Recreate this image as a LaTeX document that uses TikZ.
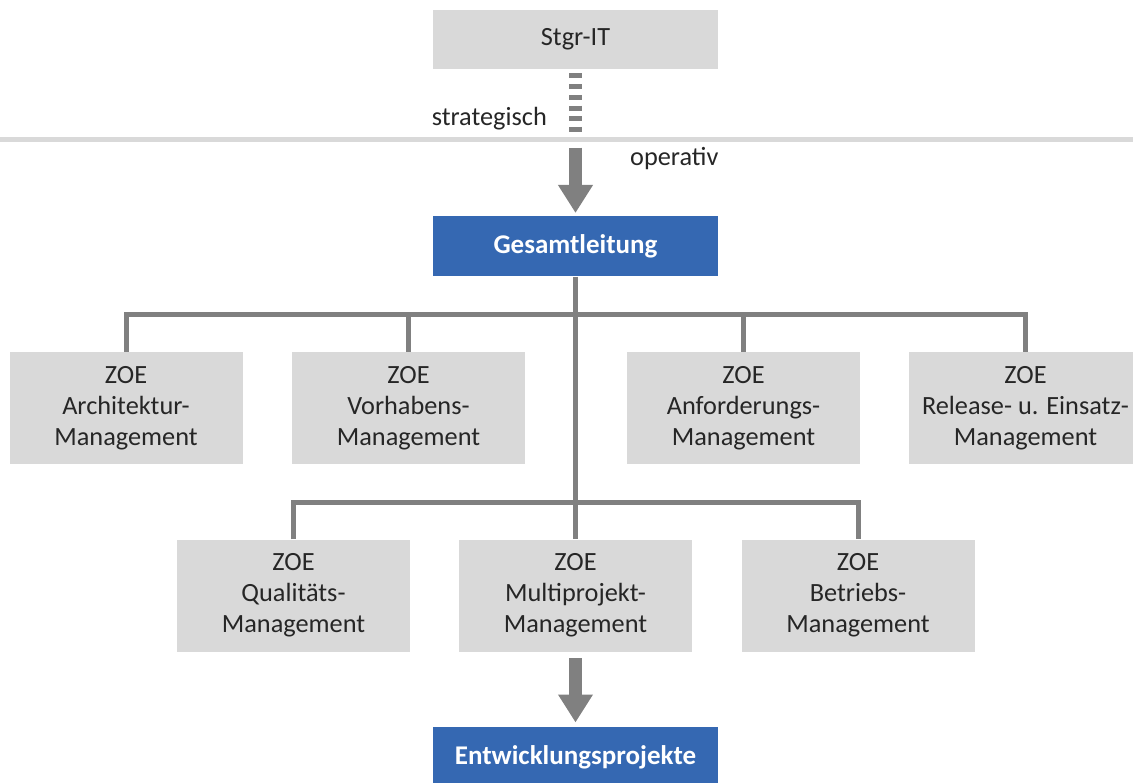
\documentclass[tikz,border=0pt]{standalone}
\usepackage{fontspec}
\setmainfont{Carlito}
\usetikzlibrary{arrows.meta}
\definecolor{boxgray}{HTML}{D9D9D9}
\definecolor{linegray}{HTML}{808080}
\definecolor{headblue}{HTML}{3568B2}
\definecolor{textgray}{HTML}{262626}
\tikzset{
	zoebox/.style={fill=boxgray, text=textgray, minimum width=233pt, minimum height=112pt, align=center, inner sep=0pt, font=\fontsize{26.3}{31}\selectfont},
	headbox/.style={fill=headblue, text=white, minimum width=285pt, minimum height=60pt, inner sep=0pt, font=\fontsize{27}{31}\selectfont\bfseries},
	topbox/.style={fill=boxgray, text=textgray, minimum width=285pt, minimum height=59pt, inner sep=0pt, font=\fontsize{26.3}{31}\selectfont},
	tree/.style={draw=linegray, line width=5pt, line join=miter},
	fatarrow/.style={draw=linegray, line width=13pt, -{Triangle[width=33pt,length=28pt]}},
	plain/.style={text=textgray, inner sep=0pt, font=\fontsize{26.3}{31}\selectfont}
}

\begin{document}
\begin{tikzpicture}[x=1pt,y=-1pt]
			%%%%% START %%%%%
			\useasboundingbox (0,0) rectangle (1133,783);
			
			\node[topbox] (stgr) at (575.5,39.5) {Stgr-IT};
			\node[headbox] (gl) at (575.5,246.5) {Gesamtleitung};
			
			\draw[draw=boxgray, line width=4.5pt] (0,139.7) -- (1133,139.7);
			\coordinate (strend) at (575.5,131.7);
			\coordinate (opstart) at (575.5,147.7);
			\draw[draw=linegray, line width=13pt, dash pattern=on 5pt off 5.7pt, shorten <=4.3pt] (stgr.south) -- (strend);
			\draw[fatarrow, shorten >=3.3pt] (opstart) -- (gl.north);
			
			\node[plain, anchor=base east] (strat) at (547,125.7) {strategisch};
			\node[plain, anchor=base west] (oper) at (630,166) {operativ};
			
			\node[zoebox] (am) at (126,408) {ZOE\\Architektur-\\Management};
			\node[zoebox] (vm) at (408.5,408) {ZOE\\Vorhabens-\\Management};
			\node[zoebox] (an) at (743.5,408) {ZOE\\Anforderungs-\\Management};
			\node[zoebox] (rm) at (1025.5,408) {ZOE\\Release- u. Einsatz-\\Management};
			
			\node[zoebox] (qm) at (293.5,595.5) {ZOE\\Qualitäts-\\Management};
			\node[zoebox] (mp) at (575.5,595.5) {ZOE\\Multiprojekt-\\Management};
			\node[zoebox] (bm) at (858,595.5) {ZOE\\Betriebs-\\Management};
			
			\node[headbox] (ep) at (575.5,757.3) {Entwicklungsprojekte};
			
			\coordinate (bus1) at (575.5,314.2);
			\coordinate (bus2) at (575.5,502);
			\draw[tree] (gl.south) -- (mp.north);
			\draw[tree] (am.north) |- (bus1) -| (rm.north);
			\draw[tree] (vm.north) -- (vm.north |- bus1);
			\draw[tree] (an.north) -- (an.north |- bus1);
			\draw[tree] (qm.north) |- (bus2) -| (bm.north);
			
			\draw[fatarrow, shorten <=6.3pt, shorten >=4.6pt] (mp.south) -- (ep.north);
			%%%%% END %%%%%
\end{tikzpicture}
\end{document}
